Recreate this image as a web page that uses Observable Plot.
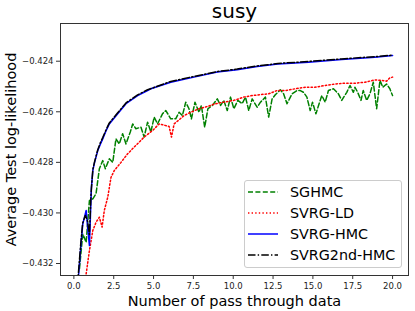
<!DOCTYPE html>
<html><head><meta charset="utf-8">
<script src="https://cdn.jsdelivr.net/npm/d3@7"></script>
<script src="https://cdn.jsdelivr.net/npm/@observablehq/plot@0.6"></script>
<style>
body{margin:0;background:#fff}
#chart{position:relative;width:415px;height:311px;font-family:"DejaVu Sans",sans-serif}
#legend{position:absolute;left:244px;top:180px;width:158px;height:88px;box-sizing:border-box;border:1px solid #cccccc;border-radius:3px;background:rgba(255,255,255,0.8)}
</style>
</head><body><div id="chart"></div>
<script>
const title = "susy";
const xLabel = "Number of pass through data";
const yLabel = "Average Test log-likelihood";
const seriesNames = ["SGHMC", "SVRG-LD", "SVRG-HMC", "SVRG2nd-HMC"];
const xTicks = [0, 2.5, 5, 7.5, 10, 12.5, 15, 17.5, 20];
const yTicks = [-0.432, -0.430, -0.428, -0.426, -0.424];

const sghmc = [[0.35,-0.4322],[0.56,-0.43083],[0.77,-0.43116],[0.975,-0.42951],[1.19,-0.42944],[1.39,-0.42924],[1.6,-0.42825],[1.81,-0.42793],[1.975,-0.42825],[2.225,-0.42786],[2.44,-0.428],[2.64,-0.42707],[2.85,-0.42727],[3.06,-0.42687],[3.27,-0.42727],[3.54,-0.4268],[3.69,-0.42648],[3.89,-0.42667],[4.21,-0.42661],[4.41,-0.427],[4.625,-0.42641],[4.83,-0.4268],[5.04,-0.42621],[5.25,-0.42648],[5.56,-0.42608],[5.77,-0.42595],[6.08,-0.42628],[6.39,-0.42628],[6.6,-0.42602],[6.81,-0.42615],[7.02,-0.42562],[7.225,-0.42588],[7.375,-0.42628],[7.6,-0.42562],[7.85,-0.42602],[8.0,-0.42575],[8.21,-0.42661],[8.41,-0.42588],[8.69,-0.42575],[9.0,-0.42549],[9.21,-0.42575],[9.41,-0.42555],[9.625,-0.42595],[9.83,-0.42542],[10.04,-0.42588],[10.29,-0.42555],[10.56,-0.42568],[10.77,-0.42542],[10.975,-0.42595],[11.19,-0.42549],[11.5,-0.42582],[11.71,-0.42562],[12.02,-0.42542],[12.225,-0.42621],[12.44,-0.42549],[12.64,-0.42533],[12.96,-0.42513],[13.16,-0.42529],[13.375,-0.42568],[13.69,-0.42529],[14.0,-0.42516],[14.21,-0.42516],[14.41,-0.42523],[14.625,-0.42542],[14.83,-0.42595],[14.975,-0.42562],[15.19,-0.42608],[15.39,-0.42568],[15.56,-0.42536],[15.77,-0.42562],[15.975,-0.42516],[16.29,-0.42509],[16.6,-0.42529],[16.81,-0.42555],[17.125,-0.42523],[17.33,-0.42496],[17.54,-0.42523],[17.64,-0.42503],[17.81,-0.42523],[18.02,-0.42555],[18.16,-0.42516],[18.375,-0.42555],[18.58,-0.42529],[18.79,-0.42483],[19.0,-0.42588],[19.21,-0.42476],[19.39,-0.42503],[19.625,-0.4249],[19.83,-0.42509],[20.0,-0.42536]];

const svrgLD = [[0.6,-0.4334],[0.77,-0.43241],[0.975,-0.43149],[1.19,-0.43069],[1.39,-0.43037],[1.6,-0.43017],[1.77,-0.43056],[1.91,-0.4299],[2.125,-0.42938],[2.33,-0.42859],[2.54,-0.42832],[2.96,-0.428],[3.375,-0.42766],[3.89,-0.42733],[4.41,-0.427],[4.94,-0.42674],[5.35,-0.42648],[5.975,-0.42658],[6.125,-0.427],[6.29,-0.42648],[6.6,-0.42632],[6.91,-0.42615],[7.33,-0.42602],[7.85,-0.42588],[8.375,-0.42579],[8.89,-0.42568],[9.41,-0.42562],[10.04,-0.42555],[10.66,-0.42542],[11.19,-0.42536],[11.71,-0.42532],[12.225,-0.42529],[12.75,-0.42516],[13.27,-0.42516],[13.89,-0.42509],[14.52,-0.42503],[15.14,-0.42503],[15.77,-0.42496],[16.39,-0.4249],[17.02,-0.42487],[17.64,-0.42487],[18.27,-0.42483],[18.89,-0.42474],[19.31,-0.42476],[19.625,-0.42479],[19.83,-0.42466],[20.0,-0.42463]];

const svrgHMC = [[0.15,-0.4336],[0.29,-0.4325],[0.45,-0.4312],[0.56,-0.43043],[0.77,-0.4299],[0.87,-0.4306],[0.975,-0.43129],[1.1,-0.429],[1.19,-0.42832],[1.3,-0.428],[1.5,-0.42753],[1.65,-0.4273],[1.81,-0.42707],[2.0,-0.42678],[2.225,-0.42648],[2.75,-0.42608],[3.27,-0.42568],[4.0,-0.42536],[4.625,-0.42516],[4.83,-0.42509],[6.08,-0.42483],[7.54,-0.42463],[9.0,-0.42443],[10.25,-0.42434],[11.5,-0.42421],[12.8,-0.42411],[14.73,-0.42404],[16.81,-0.42393],[18.89,-0.42384],[20.0,-0.42377]];

const svrg2nd = [[0.15,-0.4334],[0.27,-0.4325],[0.42,-0.4313],[0.55,-0.4304],[0.72,-0.4301],[0.85,-0.4303],[0.975,-0.43085],[1.08,-0.4292],[1.19,-0.42828],[1.3,-0.42797],[1.5,-0.4275],[1.65,-0.42724],[1.81,-0.42702],[2.0,-0.42674],[2.225,-0.42644],[2.75,-0.42604],[3.27,-0.42565],[4.0,-0.42533],[4.625,-0.42513],[6.08,-0.4248],[7.54,-0.4246],[9.0,-0.42441],[10.25,-0.42431],[11.5,-0.42419],[12.8,-0.42409],[14.73,-0.42401],[16.81,-0.42391],[18.89,-0.42382],[20.0,-0.42376]];

const seriesData = [sghmc, svrgLD, svrgHMC, svrg2nd];
const styles = [
  {stroke: "#008000", dash: "5,2.4"},
  {stroke: "#ff0000", dash: "1.4,2.2"},
  {stroke: "#0000ff", dash: null},
  {stroke: "#000000", dash: "7.5,2.2,1.4,2.2"}
];

const rows = seriesData.map((arr, i) => arr.map(([x, y]) => ({x, y, s: seriesNames[i]})));
const fmtY = d => d.toFixed(3).replace("-", "\u2212");
const fmtX = d => d.toFixed(1);

const marks = [];
rows.forEach((r, i) => {
  marks.push(Plot.line(r, {x: "x", y: "y", stroke: styles[i].stroke, strokeWidth: 1.5,
    strokeDasharray: styles[i].dash || undefined, clip: true}));
});
marks.push(Plot.frame({stroke: "#333", strokeWidth: 1}));
marks.push(Plot.axisX({ticks: xTicks, tickFormat: fmtX, tickSize: 4, tickPadding: 3, fontSize: 8.5, label: null, color: "#222", stroke: "#333"}));
marks.push(Plot.axisY({ticks: yTicks, tickFormat: fmtY, tickSize: 4, tickPadding: 3, fontSize: 8.5, label: null, color: "#222", stroke: "#333"}));
marks.push(Plot.text([title], {frameAnchor: "top", dy: -6, lineAnchor: "bottom", textAnchor: "middle", fontSize: 20, fill: "#000"}));
marks.push(Plot.text([xLabel], {frameAnchor: "bottom", dy: 30, lineAnchor: "bottom", textAnchor: "middle", fontSize: 14.5, fill: "#000"}));
marks.push(Plot.text([yLabel], {frameAnchor: "left", dx: -45, rotate: -90, lineAnchor: "bottom", textAnchor: "middle", fontSize: 14.5, fill: "#000"}));

const plot = Plot.plot({
  width: 415, height: 311,
  marginLeft: 60, marginRight: 7, marginTop: 23, marginBottom: 36,
  style: {fontFamily: "DejaVu Sans, sans-serif", background: "#fff", overflow: "visible"},
  x: {domain: [-0.84, 21.0]},
  y: {domain: [-0.432474, -0.422509]},
  marks
});
const chart = document.getElementById("chart");
chart.appendChild(plot);

// legend
const legend = document.createElement("div");
legend.id = "legend";
const ns = "http://www.w3.org/2000/svg";
const lsvg = document.createElementNS(ns, "svg");
lsvg.setAttribute("width", 156); lsvg.setAttribute("height", 86);
lsvg.style.position = "absolute"; lsvg.style.left = "0"; lsvg.style.top = "0";
seriesNames.forEach((name, i) => {
  const cy = 11 + i * 21;
  const ln = document.createElementNS(ns, "line");
  ln.setAttribute("x1", 3); ln.setAttribute("x2", 33);
  ln.setAttribute("y1", cy); ln.setAttribute("y2", cy);
  ln.setAttribute("stroke", styles[i].stroke); ln.setAttribute("stroke-width", 1.5);
  if (styles[i].dash) ln.setAttribute("stroke-dasharray", styles[i].dash);
  lsvg.appendChild(ln);
  const t = document.createElementNS(ns, "text");
  t.setAttribute("x", 45); t.setAttribute("y", cy + 5);
  t.setAttribute("font-size", 14.3); t.setAttribute("font-family", "DejaVu Sans, sans-serif");
  t.textContent = name;
  lsvg.appendChild(t);
});
legend.appendChild(lsvg);
chart.appendChild(legend);
</script>
</body></html>
